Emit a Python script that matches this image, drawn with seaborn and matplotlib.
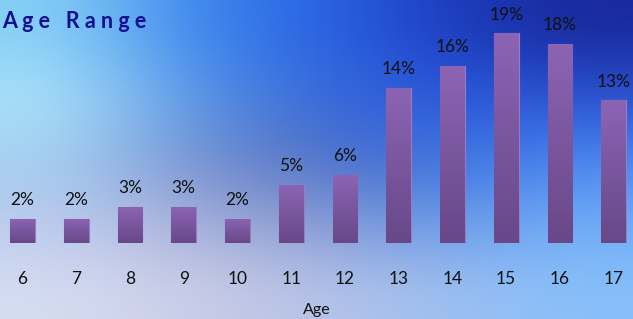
import numpy as np
import pandas as pd
import matplotlib
matplotlib.use("Agg")
import matplotlib.pyplot as plt
import matplotlib.colors as mcolors
import seaborn as sns

ages = ["6", "7", "8", "9", "10", "11", "12", "13", "14", "15", "16", "17"]
shares = [2.2, 2.2, 3.3, 3.3, 2.2, 5.3, 6.2, 14.1, 16.1, 19.05, 18.1, 13.0]
labels = ["2%", "2%", "3%", "3%", "2%", "5%", "6%", "14%", "16%", "19%", "18%", "13%"]

df = pd.DataFrame({"Age": ages, "Share": shares})

sns.set_style("white")
plt.rcParams["font.family"] = ["Lato", "DejaVu Sans"]

W, H = 633, 319
fig = plt.figure(figsize=(W / 100, H / 100), dpi=100)

# background gradient
bg_hex = [
    ["#86d0f6", "#3c86ee", "#2a66e6", "#1c3cc0", "#18289a"],
    ["#b0e6fa", "#5a98e8", "#3668d8", "#2a5ae0", "#2a50d0"],
    ["#a4d0f2", "#7890d0", "#5070c0", "#3a70e0", "#4a88f0"],
    ["#bccaee", "#a8b0d8", "#8898d0", "#6898e8", "#70aef8"],
    ["#d6def2", "#cccde6", "#b8c4e8", "#a0c0f0", "#88c0fa"],
]
bg = np.array([[mcolors.to_rgb(c) for c in row] for row in bg_hex])
bax = fig.add_axes([0, 0, 1, 1])
bax.imshow(bg, aspect="auto", interpolation="bicubic", extent=[0, 1, 0, 1])
bax.set_axis_off()

base = (H - 243) / H
ax = fig.add_axes([0, base, 1, 1 - base])
ax.patch.set_alpha(0)
sns.barplot(data=df, x="Age", y="Share", ax=ax, color="#7a58a0", width=0.46,
            edgecolor="#9a7cc4", linewidth=0.8)
ax.set_xlim(-0.42, 11.36)
ax.set_ylim(0, 243 / 11)

# gradient fill on bars
grad = np.linspace(0, 1, 256).reshape(-1, 1)
cmap = mcolors.LinearSegmentedColormap.from_list("bar", ["#8c64b4", "#684888"])
for p in ax.patches:
    x0, y0 = p.get_x(), p.get_y()
    w, h = p.get_width(), p.get_height()
    im = ax.imshow(grad, cmap=cmap, aspect="auto", extent=[x0, x0 + w, y0, y0 + h],
                   origin="upper", zorder=p.get_zorder() + 0.1)
    im.set_clip_path(p)

for i, (v, lab) in enumerate(zip(shares, labels)):
    ax.annotate(lab, (i, v), xytext=(0, 7.5), textcoords="offset points",
                ha="center", va="bottom", fontsize=12.5, color="#111111")

sns.despine(ax=ax, left=True, bottom=True)
ax.set_yticks([])
ax.tick_params(axis="x", length=0, pad=20, labelsize=12.5, labelcolor="#111111")
ax.set_xlabel("Age", fontsize=11.5, color="#111111", labelpad=12)
ax.set_ylabel("")

fig.text(2 / W, 1 - 21 / H, "A g e   R a n g e", fontsize=15.5, fontweight="bold",
         color="#101090", ha="left", va="center")

fig.savefig("out.png", dpi=100)
